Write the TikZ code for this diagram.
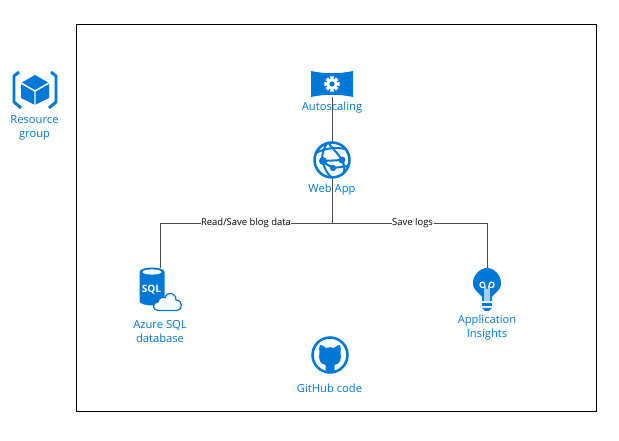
\documentclass[tikz,border=0pt]{standalone}
\usepackage{fontspec}
\setmainfont{Open Sans}
\usepackage{xcolor}
\definecolor{azure}{HTML}{0078D7}
\tikzset{
    icon/.style={inner sep=0pt,minimum width=#1*0.75pt,minimum height=#1*0.75pt},
    caption/.style={text=azure,font=\fontsize{8.4}{10.5}\selectfont,align=center,inner sep=0pt},
    link/.style={draw=black!70,line width=0.7pt},
    linklabel/.style={fill=white,text=black,font=\fontsize{7.1}{9}\selectfont,inner sep=0.4pt},
    % resource group: cube in brackets
    pics/cube/.style={code={
        \fill[azure] (0,-15) -- (14,-7) -- (14,8) -- (0,15) -- (-14,8) -- (-14,-7) -- cycle;
        \draw[white,line width=1.1pt] (-14,-7) -- (0,1) -- (14,-7) (0,1) -- (0,15);
        \draw[azure,line width=2.2pt] (-16,-18) -- (-21,-14) -- (-21,12) -- (-14,18);
        \draw[azure,line width=2.2pt] (16,-18) -- (21,-14) -- (21,12) -- (14,18);
    }},
    % autoscaling: banner with a gear
    pics/banner/.style={code={
        \fill[azure] (-21,-13) .. controls (-8,-10) and (8,-10) .. (21,-13) -- (21,13) .. controls (8,10) and (-8,10) .. (-21,13) -- cycle;
        \foreach \t in {0,45,...,315} {
            \fill[white] (\t-14:7.8) -- (\t+14:7.8) -- (\t+20:4.5) -- (\t-20:4.5) -- cycle;
        }
        \fill[white] (0,0) circle (5.5);
        \fill[azure] (0,0) circle (2.6);
    }},
    % web app: globe with linked dots
    pics/globe/.style={code={
        \draw[azure,line width=1.9pt] (0,0) circle (17.5);
        \draw[azure,line width=1.5pt] (-16,-7) .. controls (-7,-12) and (4,-13) .. (13,-11);
        \draw[azure,line width=1.5pt] (-5,-17) .. controls (-9,-10) and (-11,-4) .. (-9,2) .. controls (-8,8) and (-5,13) .. (-1,17);
        \draw[azure,line width=1.5pt] (-3,-16) .. controls (3,-9) and (7,-5) .. (10,0) .. controls (12,5) and (13,8) .. (12,12);
        \draw[azure,line width=1.5pt] (-9,2) -- (1,8) -- (16,6);
        \draw[azure,line width=1.5pt] (-9,1) -- (10,0);
        \fill[azure] (-9,1) circle (4);
        \fill[azure] (10,0) circle (3.5);
        \fill[azure] (1,8) circle (3.2);
    }},
    % sql database with a small cloud
    pics/sqlcan/.style={code={
        \fill[azure] (-12.5,-15) arc (180:360:12.5 and 4.5) -- (12.5,14) arc (0:180:12.5 and 4.5) -- cycle;
        \fill[white] (0,-15) ellipse (9.5 and 2.6);
        \node[text=white,font=\bfseries\fontsize{7.6}{9}\selectfont,inner sep=0pt] (sqltext) at (-0.5,2.5) {SQL};
        \draw[azure,fill=white,line width=0.9pt] (6,23.5) .. controls (0,23.5) and (0,15) .. (6,15) .. controls (7,10) and (11,10) .. (13,11) .. controls (15,4) and (24,5) .. (24,13) .. controls (31,13) and (31,23.5) .. (25,23.5) -- cycle;
    }},
    % application insights: light bulb
    pics/bulb/.style={code={
        \fill[azure] (-5,12) -- (-5,8) .. controls (-8,3) and (-14,2) .. (-14,-6) .. controls (-14,-14) and (-7,-21) .. (0,-21) .. controls (7,-21) and (14,-14) .. (14,-6) .. controls (14,2) and (8,3) .. (5,8) -- (5,12) -- cycle;
        \draw[white,line width=0.9pt] (-2,12) -- (-2,-3) .. controls (-2,-8) and (-7,-8) .. (-7,-4) .. controls (-7,-1) and (-3,-1) .. (-2,-2) (2,12) -- (2,-3) .. controls (2,-8) and (7,-8) .. (7,-4) .. controls (7,-1) and (3,-1) .. (2,-2) (0,0) -- (0,12);
        \fill[azure] (-5,14) rectangle (5,17);
        \fill[azure] (-5,19) -- (5,19) -- (2,22) -- (-2,22) -- cycle;
    }},
    % github: cat in a ring
    pics/octocat/.style={code={
        \draw[azure,line width=1.9pt] (0,0) circle (17.5);
        \fill[azure] (-4.5,16.5) -- (-4.5,10) .. controls (-11,9) and (-11.5,3) .. (-10.5,-2) .. controls (-11,-5) and (-11,-8) .. (-10,-10) .. controls (-8,-10) and (-6,-9) .. (-4,-7) .. controls (-1,-8) and (1,-8) .. (4,-7) .. controls (6,-9) and (8,-10) .. (10,-10) .. controls (11,-8) and (11,-5) .. (10.5,-2) .. controls (11.5,3) and (11,9) .. (4.5,10) -- (4.5,16.5) .. controls (2,17) and (-2,17) .. (-4.5,16.5) -- cycle;
    }},
}
\begin{document}
\begin{tikzpicture}[x=0.75pt,y=-0.75pt]
    \useasboundingbox (0,0) rectangle (619,441);
    \def\splity{223} % height of the shared branch
    % Outer frame
    \node[draw=black,line width=0.75pt,inner sep=0pt,minimum width=520*0.75pt,minimum height=387*0.75pt] (frame) at (336,218) {};
    % Icon places
    \node[icon=42] (group) at (35,90) {};
    \node[icon=26] (autoscaling) at (332,84) {};
    \node[icon=37] (webapp) at (332,160) {};
    \node[icon=25] (sqldb) at (152,287) {};
    \node[icon=28] (insights) at (487,289) {};
    \node[icon=37] (github) at (330,355) {};
    \coordinate (split) at (332,\splity);
    \coordinate (sqltop) at (160,268);
    \coordinate (insightstop) at (487,268);
    % Connectors
    \draw[link] (autoscaling.south) -- (webapp.north);
    \draw[link] (webapp.south) -- (split);
    \draw[link] (split) -| node[pos=0.25,linklabel] (readlabel) {Read/Save blog data} (sqltop);
    \draw[link] (split) -| node[pos=0.26,linklabel] (logslabel) {Save logs} (insightstop);
    % Icons
    \pic at (group) {cube};
    \pic at (autoscaling) {banner};
    \pic at (webapp) {globe};
    \pic at (sqldb) {sqlcan};
    \pic at (insights) {bulb};
    \pic at (github) {octocat};
    % Captions
    \node[caption] (grouptext) at (34.5,128) {Resource\\group};
    \node[caption] (autoscalingtext) at (332,108) {Autoscaling};
    \node[caption] (webapptext) at (332,190) {Web App};
    \node[caption] (sqltext2) at (160,331) {Azure SQL\\database};
    \node[caption] (insightstext) at (487,328) {Application\\Insights};
    \node[caption] (githubtext) at (329.5,388) {GitHub code};
\end{tikzpicture}
\end{document}
